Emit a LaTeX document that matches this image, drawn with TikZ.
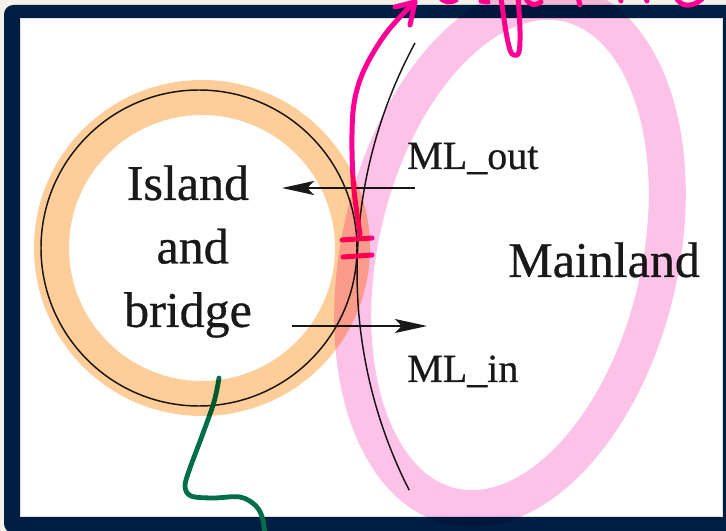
\documentclass[tikz,border=0pt]{standalone}
\usepackage{fontspec}
\setmainfont{Liberation Serif}[FakeBold=0.6]
\usetikzlibrary{arrows.meta}
\definecolor{navy}{RGB}{0,30,68}
\definecolor{hlorange}{RGB}{253,206,153}
\definecolor{hlpink}{RGB}{253,194,232}
\definecolor{pen}{RGB}{255,0,150}
\definecolor{pengreen}{RGB}{0,110,72}
\definecolor{pagebg}{RGB}{243,241,234}
\definecolor{ink}{RGB}{25,25,25}
\begin{document}
\begin{tikzpicture}[x=0.75pt,y=-0.75pt,
  bigtext/.style={font=\fontsize{37.5pt}{47.6pt}\selectfont, inner sep=0pt, text=ink},
  smalltext/.style={font=\fontsize{30pt}{36pt}\selectfont, inner sep=0pt, text=ink},
  arr/.style={draw=ink, line width=1.1pt, -{Stealth[length=24pt,width=10.5pt,inset=5pt]}},
  fineline/.style={draw=ink, line width=1.1pt},
  penline/.style={draw=pen, line width=3.75pt, line cap=round, line join=round},
  greenline/.style={draw=pengreen, line width=3.6pt, line cap=round, line join=round},
  hlring/.style={line width=26.25pt},
]
\useasboundingbox (0,0) rectangle (726,531);
\fill[pagebg] (0,0) rectangle (726,531);
% frame
\fill[navy, rounded corners=7pt] (4,5) rectangle (740,533);
\fill[white] (20,18) rectangle (722,516);
\draw[gray!25, line width=0.5pt] (20,18) rectangle (722,516);

% island circle and coast arc
\draw[fineline] (199,248) circle[radius=158];
\draw[fineline] (415,43) arc[start angle=208.4, end angle=153.1, radius=481.8];

% texts
\node[bigtext, align=center, anchor=north] (island) at (188,165) {Island\\\hspace*{7pt}and\\bridge};
\node[bigtext, anchor=base west] (main) at (508,277) {Mainland};
\node[smalltext, anchor=base west] (mlout) at (407,169) {ML\_out};
\node[smalltext, anchor=base west] (mlin) at (407,382) {ML\_in};

% arrows
\coordinate (outA) at (415,188);
\coordinate (outB) at (282,188);
\draw[arr] (outA) -- (outB);
\coordinate (inA) at (292,326);
\coordinate (inB) at (427,326);
\draw[arr] (inA) -- (inB);

% pen annotations
\draw[penline] plot[smooth, tension=0.6] coordinates {(360,234) (354,190) (352,150) (353,112) (358,86) (368,62) (384,36) (400,17) (415,2)};
\draw[penline] (395,7) -- (415,2) -- (410,25);
\draw[penline] (342,240) -- (372,238);
\draw[penline] (343,257) -- (372,255);
% cut-off handwriting at the top
\draw[penline] plot[smooth, tension=0.6] coordinates {(501,-2) (503,12) (506,32) (510,50) (514,55) (519,52) (520,30) (518,-3)};
\draw[penline] (526,-2) .. controls (529,6) and (536,6) .. (541,2);
\draw[penline] (440,-3) .. controls (444,3) and (451,3) .. (456,0);
\draw[penline] (481,1) -- (488,2);
\draw[penline] (578,-3) -- (580,5);
\draw[penline] (620,-2) -- (621,1);
\draw[penline] (646,-2) -- (647,1);
\draw[penline] (676,-3) .. controls (680,7) and (692,8) .. (702,-1);

% green pointer
\draw[greenline] plot[smooth, tension=0.55] coordinates {(219,378) (214,402) (202,436) (190,468) (185,486) (191,496) (213,498) (240,497) (256,506) (263,520) (265,540)};

% highlighter strokes
\begin{scope}[blend mode=multiply]
\draw[hlorange, hlring] (202,248) circle[radius=150.5];
\draw[hlpink, line width=27.75pt, rotate around={-13:(510,255)}] (510,255) ellipse[x radius=150, y radius=258];
\end{scope}
\end{tikzpicture}
\end{document}
